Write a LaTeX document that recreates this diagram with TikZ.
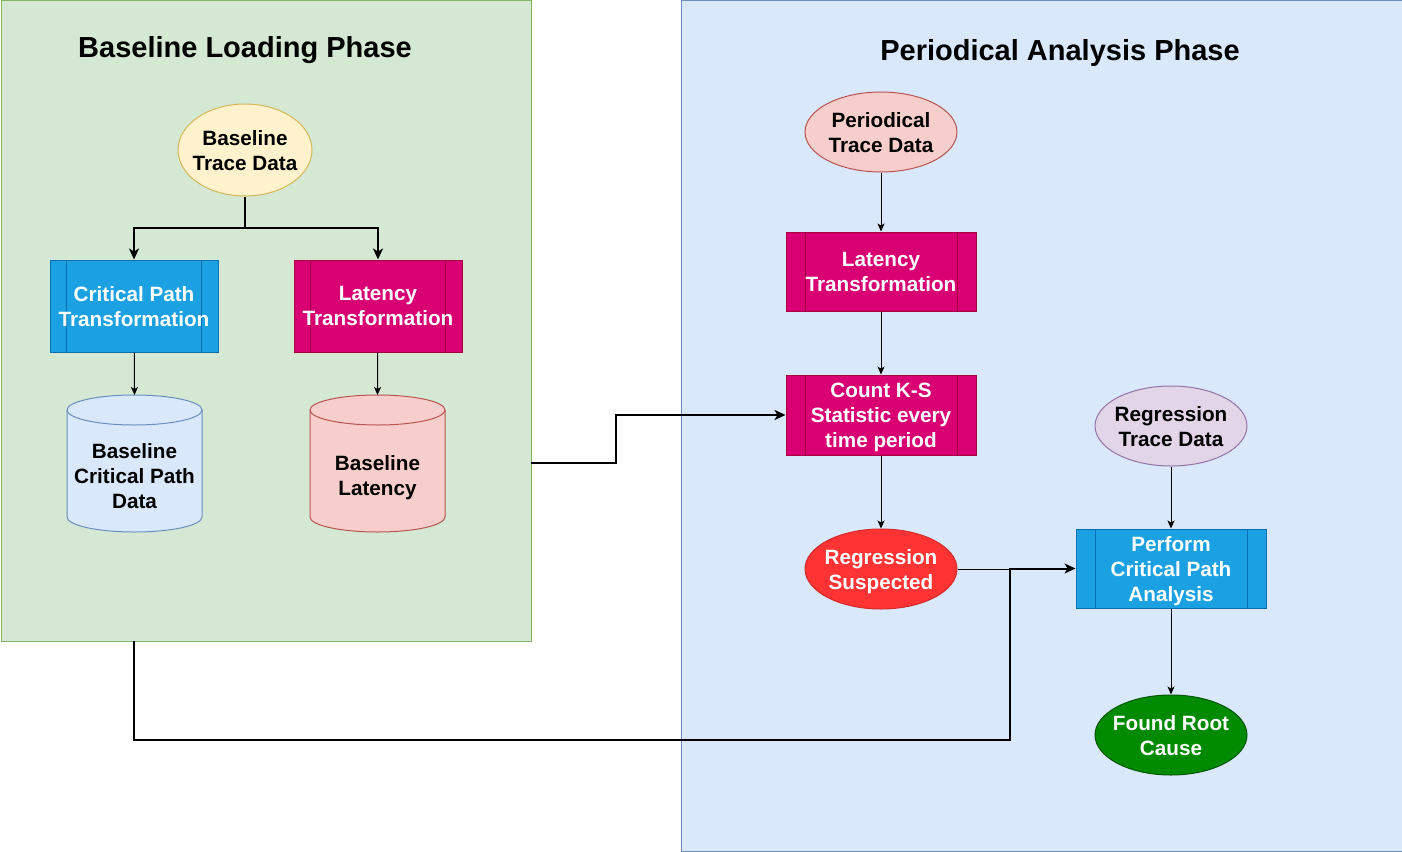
\documentclass[tikz,border=0pt]{standalone}
\usepackage{fontspec}
\setmainfont{Liberation Sans}
\usetikzlibrary{arrows.meta,shapes.geometric}
\definecolor{grnF}{HTML}{D5E8D4}\definecolor{grnD}{HTML}{82B366}
\definecolor{bluF}{HTML}{DAE8FC}\definecolor{bluD}{HTML}{6C8EBF}
\definecolor{yelF}{HTML}{FFF2CC}\definecolor{yelD}{HTML}{D6B656}
\definecolor{redF}{HTML}{F8CECC}\definecolor{redD}{HTML}{B85450}
\definecolor{purF}{HTML}{E1D5E7}\definecolor{purD}{HTML}{9673A6}
\definecolor{pbF}{HTML}{1BA1E2}\definecolor{pbD}{HTML}{006EAF}
\definecolor{pmF}{HTML}{D80073}\definecolor{pmD}{HTML}{A50040}
\definecolor{rsF}{HTML}{FF3333}\definecolor{rsD}{HTML}{D42A2A}
\definecolor{frF}{HTML}{008A00}\definecolor{frD}{HTML}{005700}
\tikzset{
  every node/.style={font=\fontsize{20.7}{25}\selectfont\bfseries, align=center, inner sep=0pt, text depth=-4pt},
  container/.style={draw=#1, line width=1pt, anchor=north west, inner sep=0pt, text depth=0pt},
  titletext/.style={font=\fontsize{29}{32}\selectfont\bfseries, text height=22pt, text depth=0pt},
  ell/.style 2 args={ellipse, fill=#1, draw=#2, line width=1pt, inner sep=-30pt, minimum width=152pt, minimum height=80pt},
  proc/.style 2 args={rectangle, fill=#1, draw=#2, line width=1pt, text=white,
     path picture={\draw[#2, line width=1pt]
        ([xshift=0.1*\pgfkeysvalueof{/pgf/minimum width}]path picture bounding box.north west) -- ([xshift=0.1*\pgfkeysvalueof{/pgf/minimum width}]path picture bounding box.south west)
        ([xshift=-0.1*\pgfkeysvalueof{/pgf/minimum width}]path picture bounding box.north east) -- ([xshift=-0.1*\pgfkeysvalueof{/pgf/minimum width}]path picture bounding box.south east);}},
  thin/.style={line width=1pt, -{Stealth[length=8pt,width=7pt,inset=2pt]}},
  thk/.style={line width=2pt, -{Stealth[length=11pt,width=10pt,inset=3pt]}},
}
\newcommand\mycyl[7]{% name, cx, top, bottom, fill, draw, text
  \filldraw[fill=#5, draw=#6, line width=1pt]
    (#2-67.5,#3+15) -- (#2-67.5,#4-15)
    arc[start angle=180, end angle=0, x radius=67.5, y radius=15]
    -- (#2+67.5,#3+15)
    arc[start angle=0, end angle=-180, x radius=67.5, y radius=15] -- cycle;
  \draw[#6, line width=1pt] (#2-67.5,#3+15) arc[start angle=180, end angle=0, x radius=67.5, y radius=15];
  \coordinate (#1top) at (#2,#3);
  \node (#1) at (#2,{(#3+#4)/2+12}) {#7};
}
\begin{document}
\begin{tikzpicture}[x=1pt,y=-1pt]
\useasboundingbox (0,0) rectangle (1402,851);
% containers
\node[container=grnD, fill=grnF, minimum width=530pt, minimum height=640pt] (greenbox) at (0.5,0.5) {};
\node[container=bluD, fill=bluF, minimum width=721pt, minimum height=850pt] (bluebox) at (680.5,0.5) {};
\node[titletext] (t1) at (245,46) {Baseline Loading Phase};
\node[titletext] (t2) at (1060,49) {Periodical Analysis Phase};
% left phase
\node[ell={yelF}{yelD}, minimum width=134pt, minimum height=92pt] (btd) at (245,150) {Baseline\\Trace Data};
\node[proc={pbF}{pbD}, minimum width=168pt, minimum height=92pt] (cpt) at (134,306) {Critical Path\\Transformation};
\node[proc={pmF}{pmD}, minimum width=168pt, minimum height=92pt] (lt1) at (378,306) {Latency\\Transformation};
\mycyl{bcp}{134.5}{395}{532}{bluF}{bluD}{Baseline\\Critical Path\\Data}
\mycyl{bl}{377.5}{395}{532}{redF}{redD}{Baseline\\Latency}
% right phase
\node[ell={redF}{redD}] (ptd) at (881,132) {Periodical\\Trace Data};
\node[proc={pmF}{pmD}, minimum width=190pt, minimum height=79pt] (lt2) at (881,271.5) {Latency\\Transformation};
\node[proc={pmF}{pmD}, minimum width=190pt, minimum height=80pt] (ks) at (881,415) {Count K-S\\Statistic every\\time period};
\node[ell={rsF}{rsD}, text=white] (rs) at (881,569) {Regression\\Suspected};
\node[ell={purF}{purD}] (rtd) at (1171,426) {Regression\\Trace Data};
\node[proc={pbF}{pbD}, minimum width=190pt, minimum height=79pt] (pcpa) at (1171,568.5) {Perform\\Critical Path\\Analysis};
\node[ell={frF}{frD}, text=white] (frc) at (1171,735) {Found Root\\Cause};
% connectors
\coordinate (fork) at (245,228);
\draw[line width=2pt] (btd) -- (fork);
\draw[thk] (fork) -| (cpt);
\draw[thk] (fork) -| (lt1);
\draw[thin] (cpt) -- (bcptop);
\draw[thin] (lt1) -- (bltop);
\draw[thin] (ptd) -- (lt2);
\draw[thin] (lt2) -- (ks);
\draw[thin] (ks) -- (rs);
\draw[thin] (rtd) -- (pcpa);
\draw[thin] (pcpa) -- (frc);
\coordinate (gout) at (530.5,463);
\coordinate (gmid) at (616,463);
\draw[thk] (gout) -- (gmid) |- (ks);
\coordinate (gbot) at (134,640.5);
\coordinate (loopc) at (1010,740);
\draw[thk] (gbot) |- (loopc) |- (pcpa);
\draw[line width=1pt] (rs.east) -- (rs.east -| loopc);
\end{tikzpicture}
\end{document}
